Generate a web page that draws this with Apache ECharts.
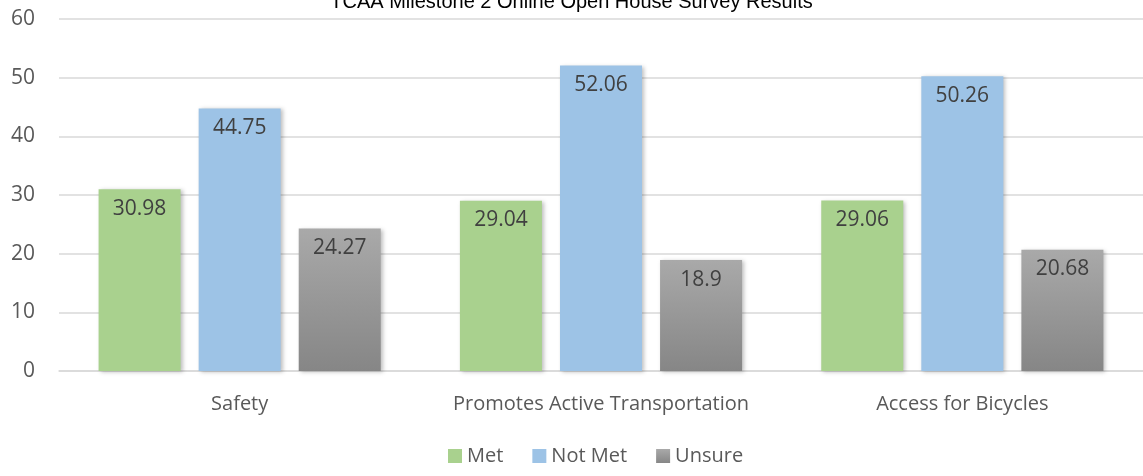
<!DOCTYPE html>
<html>
<head>
<meta charset="utf-8">
<script src="https://cdn.jsdelivr.net/npm/echarts@6/dist/echarts.min.js"></script>
<style>
  html, body { margin: 0; padding: 0; background: #fff; }
  #chart { width: 1143px; height: 476px; }
</style>
</head>
<body>
<div id="chart"></div>
<script>
// survey data
var categories = ['Safety', 'Promotes Active Transportation', 'Access for Bicycles'];
var met = [30.98, 29.04, 29.06];
var notMet = [44.75, 52.06, 50.26];
var unsure = [24.27, 18.9, 20.68];

var chart = echarts.init(document.getElementById('chart'));

var labelStyle = {
  show: true,
  position: 'insideTop',
  distance: 9,
  color: '#404040',
  fontSize: 21,
  fontFamily: 'Open Sans'
};
var shadow = {
  shadowColor: 'rgba(0,0,0,0.25)',
  shadowBlur: 4,
  shadowOffsetX: 2,
  shadowOffsetY: 1
};

var option = {
  backgroundColor: '#FFFFFF',
  animation: false,
  title: {
    text: 'TCAA Milestone 2 Online Open House Survey Results',
    left: 'center',
    top: -13,
    textStyle: { fontFamily: 'Liberation Sans', fontWeight: 'normal', fontSize: 20, color: '#000' }
  },
  legend: {
    bottom: 5,
    left: 443,
    itemWidth: 14,
    itemHeight: 14,
    itemGap: 29,
    icon: 'rect',
    textStyle: { fontFamily: 'Open Sans', fontSize: 20, color: '#595959' },
    data: ['Met', 'Not Met', 'Unsure']
  },
  grid: {
    left: 59,
    right: 0,
    top: 19,
    bottom: 105
  },
  xAxis: {
    type: 'category',
    data: categories,
    axisTick: { show: false },
    axisLine: { lineStyle: { color: '#d9d9d9', width: 1.5 } },
    axisLabel: { interval: 0, color: '#595959', fontSize: 20, fontFamily: 'Open Sans', margin: 23 }
  },
  yAxis: {
    type: 'value',
    min: 0,
    max: 60,
    interval: 10,
    axisLine: { show: false },
    axisTick: { show: false },
    splitLine: { lineStyle: { color: '#d9d9d9', width: 1.5 } },
    axisLabel: { color: '#595959', fontSize: 21, fontFamily: 'Open Sans', margin: 24 }
  },
  series: [
    {
      name: 'Met',
      type: 'bar',
      data: met,
      barWidth: '22.7%',
      barGap: '22%',
      itemStyle: Object.assign({ color: '#a9d18e' }, shadow),
      label: labelStyle
    },
    {
      name: 'Not Met',
      type: 'bar',
      data: notMet,
      barWidth: '22.7%',
      itemStyle: Object.assign({ color: '#9dc3e6' }, shadow),
      label: labelStyle
    },
    {
      name: 'Unsure',
      type: 'bar',
      data: unsure,
      barWidth: '22.7%',
      itemStyle: Object.assign({
        color: new echarts.graphic.LinearGradient(0, 0, 0, 1, [
          { offset: 0, color: '#a9a9a9' },
          { offset: 1, color: '#868686' }
        ])
      }, shadow),
      label: labelStyle
    }
  ]
};

chart.setOption(option);
</script>
</body>
</html>
